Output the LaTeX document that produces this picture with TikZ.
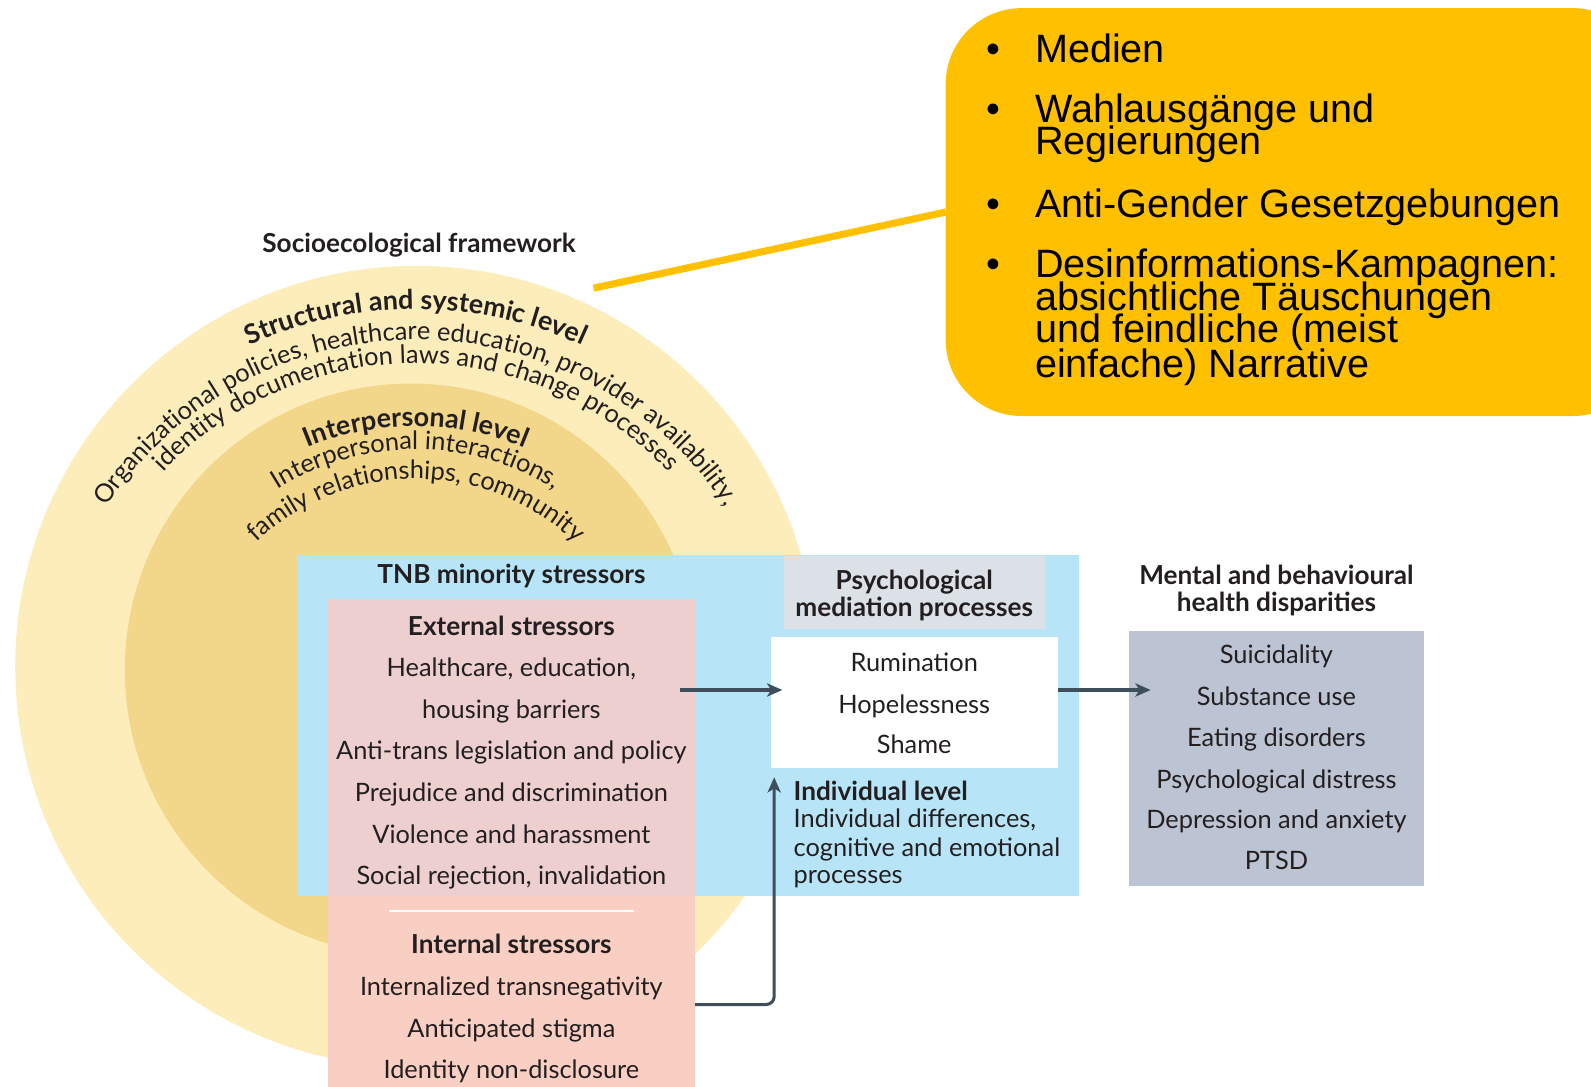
\documentclass[tikz,border=0pt]{standalone}
\usepackage{fontspec}
\setmainfont{Lato}
\newfontfamily\calloutfont{Liberation Sans}
\usetikzlibrary{positioning, arrows.meta, decorations.text}
\definecolor{outerring}{HTML}{FDEDBB}
\definecolor{innerring}{HTML}{F2D68A}
\definecolor{tnbblue}{HTML}{B8E4F7}
\definecolor{extpink}{HTML}{EDCFCF}
\definecolor{intpink}{HTML}{F9CFC3}
\definecolor{medgray}{HTML}{DCE0E7}
\definecolor{outgray}{HTML}{BCC3D3}
\definecolor{gold}{HTML}{FFC000}
\definecolor{arrowc}{HTML}{3E4E5B}
\definecolor{ink}{HTML}{231F20}

\begin{document}
\begin{tikzpicture}[x=1pt, y=-1pt,
  body/.style={font=\fontsize{25}{29}\selectfont, text=ink, anchor=base, inner sep=0pt},
  head/.style={body, font=\fontsize{25.8}{29}\selectfont\bfseries},
  panel/.style={anchor=north west, inner sep=0pt, outer sep=0pt},
  flow/.style={draw=arrowc, line width=3pt, -{Stealth[length=15pt, width=13pt, inset=4pt]}},
  callout/.style={font=\calloutfont\fontsize{39}{33}\selectfont, anchor=base west, inner sep=0pt}
]
\useasboundingbox (0,0) rectangle (1568,1071);
\clip (0,0) rectangle (1568,1071);

% rings of the framework
\fill[outerring] (410,657) circle[radius=395pt];
\fill[innerring] (405,660) circle[radius=282pt];
\node[head] (frame) at (413,249) {Socioecological framework};

\path[decorate, decoration={text along path, text align=center,
  text={|\color{ink}\fontsize{26.5}{30}\selectfont\bfseries|Structural and systemic level}}]
  (410,700) ++(170:395pt) arc[start angle=170, end angle=10, radius=395pt];
\path[decorate, decoration={text along path, text align=center,
  text={|\color{ink}\fontsize{25}{29}\selectfont|Organizational policies, healthcare education, provider availability,}}]
  (410,700) ++(178:365pt) arc[start angle=178, end angle=2, radius=365pt];
\path[decorate, decoration={text along path, text align=center,
  text={|\color{ink}\fontsize{25}{29}\selectfont|identity documentation laws and change processes}}]
  (410,700) ++(170:342pt) arc[start angle=170, end angle=10, radius=342pt];
\path[decorate, decoration={text along path, text align=center,
  text={|\color{ink}\fontsize{26.5}{30}\selectfont\bfseries|Interpersonal level}}]
  (410,700) ++(170:280pt) arc[start angle=170, end angle=10, radius=280pt];
\path[decorate, decoration={text along path, text align=center,
  text={|\color{ink}\fontsize{25}{29}\selectfont|Interpersonal interactions,}}]
  (410,700) ++(170:257pt) arc[start angle=170, end angle=10, radius=257pt];
\path[decorate, decoration={text along path, text align=center,
  text={|\color{ink}\fontsize{25}{29}\selectfont|family relationships, community}}]
  (410,700) ++(170:228pt) arc[start angle=170, end angle=10, radius=228pt];

% panels
\node[panel, fill=tnbblue, minimum width=770pt, minimum height=336pt] (tnb) at (293,547) {};
\node[panel, fill=extpink, minimum width=362pt, minimum height=293pt] (extbox) at (323,590) {};
\node[panel, fill=intpink, minimum width=362pt, minimum height=204pt] (intbox) at (323,883) {};
\node[panel, fill=medgray, minimum width=257pt, minimum height=72pt] (medhead) at (773,548) {};
\node[panel, fill=white, minimum width=283pt, minimum height=129pt] (medbox) at (760,628) {};
\node[panel, fill=outgray, minimum width=290pt, minimum height=251pt] (outbox) at (1113,622) {};
\draw[white, line width=2pt] (383,898) -- (625,898);

% minority stressors
\node[head] (tnbtitle) at (504,575) {TNB minority stressors};
\node[head] (exttitle) at (504,626) {External stressors};
\node[body] (ext1) at (504,667) {Healthcare, education,};
\node[body] (ext2) at (504,708) {housing barriers};
\node[body] (ext3) at (504,749) {Anti-trans legislation and policy};
\node[body] (ext4) at (504,790) {Prejudice and discrimination};
\node[body] (ext5) at (504,831) {Violence and harassment};
\node[body] (ext6) at (504,872) {Social rejection, invalidation};
\node[head] (inttitle) at (504,940) {Internal stressors};
\node[body] (int1) at (504,981) {Internalized transnegativity};
\node[body] (int2) at (504,1022) {Anticipated stigma};
\node[body] (int3) at (504,1063) {Identity non-disclosure};

% mediation processes
\node[head] (medt1) at (901,581) {Psychological};
\node[head] (medt2) at (901,608) {mediation processes};
\node[body] (med1) at (901,662) {Rumination};
\node[body] (med2) at (901,703) {Hopelessness};
\node[body] (med3) at (901,743) {Shame};
\node[head, anchor=base west] (indt) at (782,789) {Individual level};
\node[body, anchor=base west] (ind1) at (782,816) {Individual differences,};
\node[body, anchor=base west] (ind2) at (782,844) {cognitive and emotional};
\node[body, anchor=base west] (ind3) at (782,871) {processes};

% outcomes
\node[head] (outt1) at (1258,576) {Mental and behavioural};
\node[head] (outt2) at (1258,603) {health disparities};
\node[body] (out1) at (1258,654) {Suicidality};
\node[body] (out2) at (1258,695) {Substance use};
\node[body] (out3) at (1258,736) {Eating disorders};
\node[body] (out4) at (1258,777) {Psychological distress};
\node[body] (out5) at (1258,817) {Depression and anxiety};
\node[body] (out6) at (1258,857) {PTSD};

% arrows
\coordinate (extout) at (670,680);
\coordinate (medin) at (771,680);
\coordinate (medout) at (1043,680);
\coordinate (outin) at (1134,680);
\coordinate (intout) at (685,990);
\coordinate (indin) at (763,766);
\draw[flow] (extout) -- (medin);
\draw[flow] (medout) -- (outin);
\draw[flow, rounded corners=8pt] (intout) -| (indin);

% callout
\coordinate (pointer) at (585,284);
\node[panel, fill=gold, rounded corners=75pt, minimum width=693pt, minimum height=402pt] (callbox) at (932,8) {};
\draw[gold, line width=7pt] (pointer) -- (callbox.west);
\node[callout] (dot1) at (972,62) {\textbullet};
\node[callout] (item1) at (1020,62) {Medien};
\node[callout] (dot2) at (972,121) {\textbullet};
\node[callout] (item2a) at (1020,121) {Wahlausgänge und};
\node[callout] (item2b) at (1020,152) {Regierungen};
\node[callout] (dot3) at (972,214) {\textbullet};
\node[callout] (item3) at (1020,214) {Anti-Gender Gesetzgebungen};
\node[callout] (dot4) at (972,273) {\textbullet};
\node[callout] (item4a) at (1020,273) {Desinformations-Kampagnen:};
\node[callout] (item4b) at (1020,306) {absichtliche Täuschungen};
\node[callout] (item4c) at (1020,338) {und feindliche (meist};
\node[callout] (item4d) at (1020,372) {einfache) Narrative};
\end{tikzpicture}
\end{document}
